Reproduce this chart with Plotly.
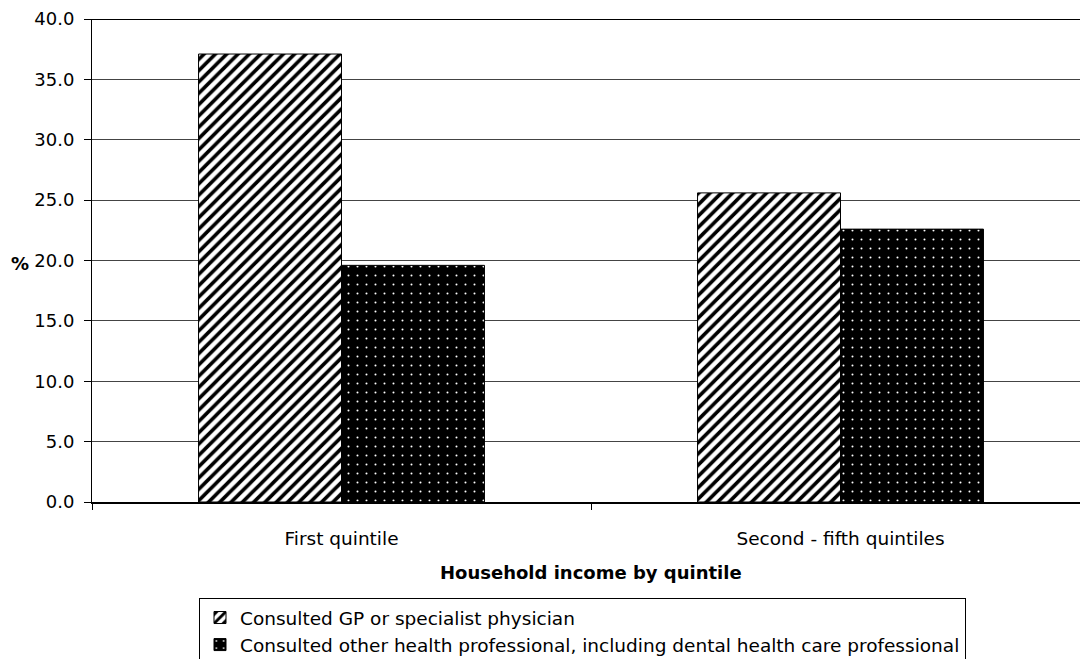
import plotly.graph_objects as go

# Share of people consulting health professionals, by household income quintile
categories = ["First quintile", "Second - fifth quintiles"]
series_names = [
    "Consulted GP or specialist physician",
    "Consulted other health professional, including dental health care professional",
]
gp_values = [37.1, 25.6]
other_values = [19.6, 22.6]
y_ticks = [0, 5, 10, 15, 20, 25, 30, 35, 40]

FONT = "DejaVu Sans, Verdana, sans-serif"
x_pos = list(range(len(categories)))

fig = go.Figure()
fig.add_trace(go.Bar(
    x=x_pos, y=gp_values, name=series_names[0],
    marker=dict(
        color="white",
        line=dict(color="black", width=1),
        pattern=dict(shape="/", fgcolor="black", bgcolor="white",
                     size=8, solidity=0.45, fillmode="replace"),
    ),
))
fig.add_trace(go.Bar(
    x=x_pos, y=other_values, name=series_names[1],
    marker=dict(
        color="black",
        line=dict(color="black", width=1),
        pattern=dict(shape=".", fgcolor="white", bgcolor="black",
                     size=9, solidity=0.04, fillmode="replace"),
    ),
))

W, H = 1080, 659
ml, mt, mb = 92, 19, 157
cat_px = 499.0  # width of one category band in pixels
plot_w = W - ml
plot_h = H - mt - mb
x_max = -0.5 + plot_w / cat_px

fig.update_layout(
    width=W, height=H,
    margin=dict(l=ml, r=0, t=mt, b=mb, pad=0, autoexpand=False),
    paper_bgcolor="white", plot_bgcolor="white",
    font=dict(family=FONT, size=18, color="black"),
    barmode="group", bargap=0.427, bargroupgap=0,
    showlegend=True,
    legend=dict(
        xref="container", yref="container",
        x=199 / W, xanchor="left",
        y=1 - 598 / H, yanchor="top",
        bordercolor="black", borderwidth=1, bgcolor="white",
        font=dict(family=FONT, size=18.5, color="black"),
        itemwidth=30, tracegroupgap=0,
    ),
    xaxis=dict(
        range=[-0.5, x_max], automargin=False,
        tickmode="array", tickvals=x_pos, ticktext=categories,
        ticks="", showgrid=False, zeroline=False,
        showline=True, linecolor="black", linewidth=2,
        ticklabelstandoff=19,
        tickfont=dict(family=FONT, size=18.5),
        minor=dict(tick0=-0.5, dtick=1, ticks="outside", ticklen=6,
                   tickcolor="black", tickwidth=1, showgrid=False),
    ),
    yaxis=dict(
        range=[0, 40], automargin=False,
        tickmode="array", tickvals=y_ticks, tickformat=".1f",
        ticks="outside", ticklen=7, tickcolor="black", tickwidth=1,
        showgrid=True, gridcolor="#444444", gridwidth=1,
        zeroline=False,
        showline=True, linecolor="black", linewidth=1,
        ticklabelstandoff=6,
        tickfont=dict(family=FONT, size=18),
    ),
    shapes=[dict(type="line", xref="paper", yref="y", x0=0, x1=1, y0=40, y1=40,
                 line=dict(color="black", width=2))],
    annotations=[
        dict(text="<b>Household income by quintile</b>", xref="paper", yref="paper",
             x=(591 - ml) / plot_w, y=-(572 - (H - mb)) / plot_h,
             xanchor="center", yanchor="middle", showarrow=False,
             font=dict(family=FONT, size=18, color="black")),
        dict(text="<b>%</b>", xref="paper", yref="paper",
             x=-(ml - 20) / plot_w, y=(H - mb - 263) / plot_h,
             xanchor="center", yanchor="middle", showarrow=False,
             font=dict(family=FONT, size=18, color="black")),
    ],
)

fig.write_html("out.html")
